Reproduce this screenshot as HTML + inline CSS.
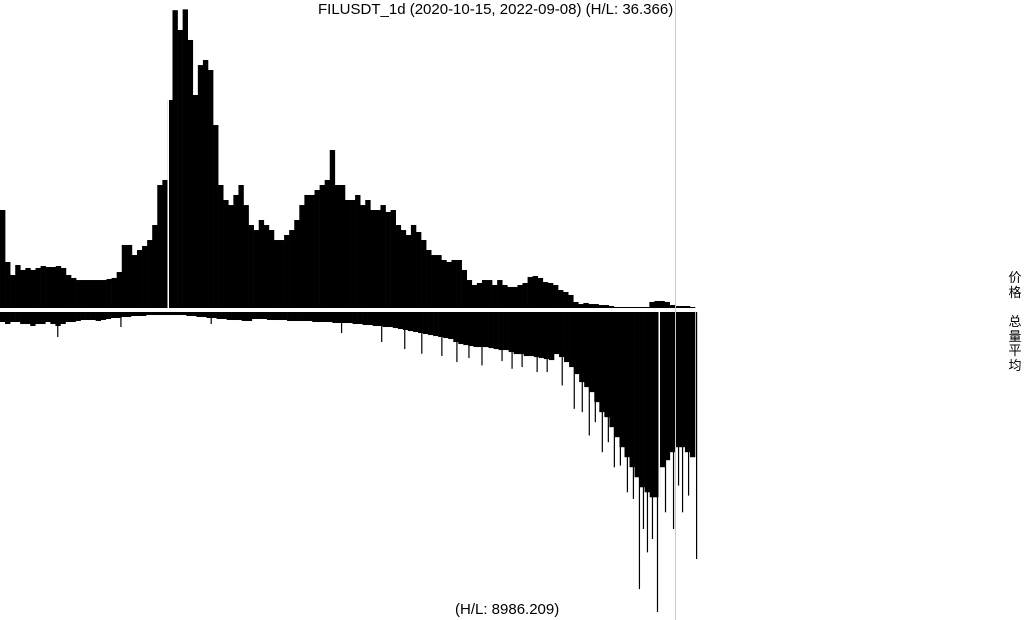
<!DOCTYPE html>
<html><head><meta charset="utf-8"><style>
body{margin:0;background:#fff;width:1024px;height:620px;overflow:hidden;font-family:"Liberation Sans","Noto Sans CJK SC",sans-serif}
.t{position:absolute;font-size:15px;color:#000;white-space:nowrap}
.v{position:absolute;left:1008px;font-size:13px;line-height:14.5px;width:14px;text-align:center}
</style></head><body>
<svg id="c" width="1024" height="620" style="position:absolute;left:0;top:0"></svg>
<div class="t" style="left:318px;top:1px">FILUSDT_1d (2020-10-15, 2022-09-08) (H/L: 36.366)</div>
<div class="t" style="left:455px;top:601px">(H/L: 8986.209)</div>
<div class="v" style="top:271px">价<br>格</div>
<div class="v" style="top:315px">总<br>量<br>平<br>均</div>
<script>
const priceMax = 36.366;
const volMax = 8986.209;
const prices = [11.88,5.58,4.00,5.21,4.61,4.85,4.61,4.85,5.09,4.97,4.97,5.09,4.85,4.00,3.64,3.39,3.39,3.39,3.39,3.39,3.39,3.52,3.64,4.36,7.64,7.64,6.42,7.03,7.52,8.24,10.06,14.91,15.52,25.21,36.10,33.70,36.20,32.49,25.82,29.45,30.06,28.85,22.18,14.91,13.09,12.48,13.70,14.91,12.48,10.06,9.45,10.67,10.06,9.45,8.24,8.24,8.85,9.45,10.67,12.48,13.70,13.70,14.30,14.91,15.52,19.15,14.91,14.91,13.09,13.09,13.70,12.48,13.09,11.88,11.88,12.48,11.64,11.88,10.06,9.45,8.85,10.06,9.21,8.24,7.03,6.42,6.42,5.82,5.58,5.82,5.82,4.61,3.39,2.79,3.03,3.39,3.39,2.79,3.39,2.79,2.55,2.55,2.79,3.03,3.76,3.88,3.64,3.15,3.03,2.79,2.18,1.94,1.58,0.73,0.48,0.61,0.48,0.48,0.36,0.36,0.24,0.12,0.12,0.12,0.12,0.12,0.12,0.12,0.73,0.85,0.85,0.73,0.36,0.24,0.24,0.24,0.12];
const volumes = [300,360,300,300,360,360,420,360,360,300,360,420,360,300,300,270,240,240,240,270,240,210,180,180,150,150,120,120,120,90,90,90,90,90,90,90,90,120,120,150,150,180,180,210,210,240,240,240,270,270,210,210,210,240,240,240,240,270,270,270,270,270,300,300,300,300,330,330,330,330,360,360,390,390,420,420,450,450,480,510,540,570,600,630,660,690,720,750,780,810,900,960,990,1020,1050,1050,1050,1080,1110,1140,1140,1200,1260,1260,1320,1320,1350,1380,1410,1440,1260,1350,1500,1650,1860,2100,2250,2400,2700,3000,3150,3450,3750,4050,4350,4650,4950,5250,5400,5550,5550,4650,4440,4200,4050,4050,4200,4350];
const spikeDays = [57,120,210,340,380,403,420,440,455,467,480,500,510,520,535,545,560,572,580,587,593,600,606,612,618,625,631,637,641,645,650,655,663,671,676,680,686,694];
const spikeVals = [750,450,360,630,900,1110,1250,1320,1500,1380,1600,1470,1700,1650,1800,1800,2200,2900,3000,3700,3300,4200,3900,4650,4600,5400,5600,8300,6500,7200,6800,8986,6000,6500,5200,6000,5500,7400];
const NS='http://www.w3.org/2000/svg', svg=document.getElementById('c');
const X0=0, W=695, TOPBASE=308, BOTBASE=312, H=300;
const xs=i=>X0+i*W/prices.length;
const py=v=>TOPBASE-v/priceMax*H;
const vy=v=>BOTBASE+v/volMax*H;
function mk(tag,a){const e=document.createElementNS(NS,tag);for(const k in a)e.setAttribute(k,a[k]);svg.appendChild(e);return e;}
prices.forEach((p,i)=>{const y=py(p);const r=mk('rect',{x:xs(i),y:y,width:W/prices.length+0.3,height:TOPBASE-y,fill:'#000'});

});
const vw=W/volumes.length;
volumes.forEach((v,i)=>{const y=vy(v);const r=mk('rect',{x:X0+i*vw,y:BOTBASE,width:vw+0.3,height:y-BOTBASE,fill:'#000'});

});
spikeDays.forEach((d,i)=>{const x=X0+d*W/693;const r=mk('rect',{x:x,y:BOTBASE,width:1.2,height:vy(spikeVals[i])-BOTBASE,fill:'#000'});

});
let g=mk('rect',{x:167.5,y:10,width:1.5,height:298,fill:'#fff'});


g=mk('rect',{x:658.5,y:312,width:1.5,height:300,fill:'#fff'});


g=mk('rect',{x:675,y:0,width:1,height:620,fill:'#c8c8c8'});


</script>
</body></html>
